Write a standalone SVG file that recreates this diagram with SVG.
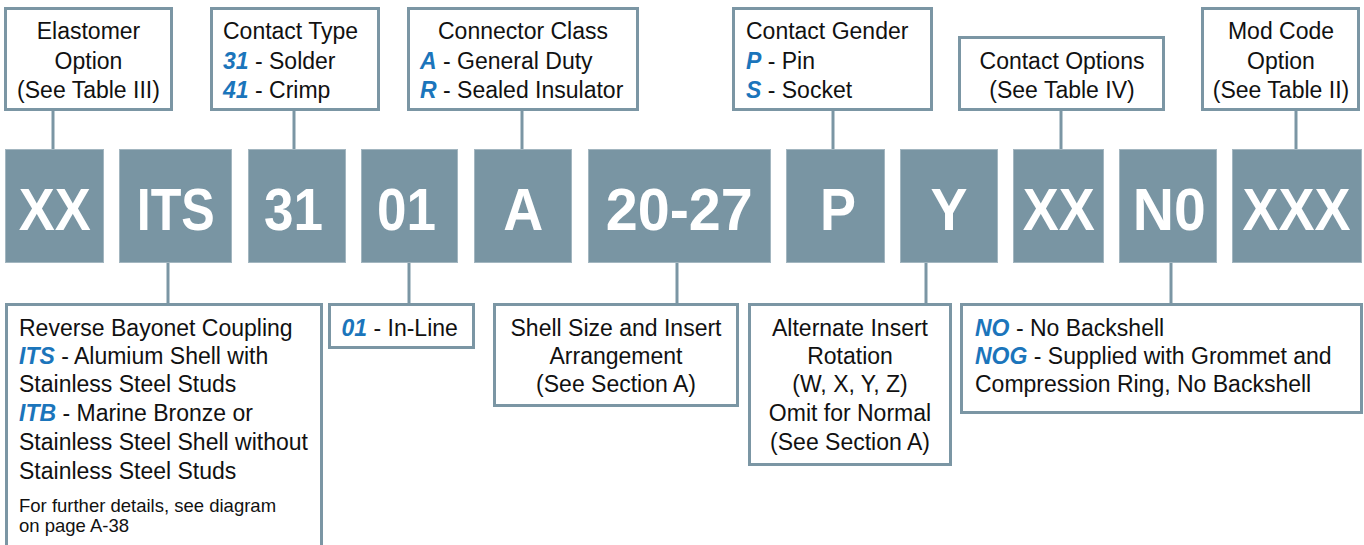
<svg xmlns="http://www.w3.org/2000/svg" width="1364" height="545" viewBox="0 0 1364 545">
<style>
.box{fill:#fff;stroke:#7b96a4;stroke-width:3}
.code{fill:#7995a3;stroke:#a3b6c0;stroke-width:1}
.ct{font-family:"Liberation Sans",Arial,sans-serif;font-weight:bold;font-size:60px;fill:#fff;text-anchor:middle}
.t{font-family:"Liberation Sans",Arial,sans-serif;font-size:23px;fill:#111}
.c{text-anchor:middle}
.s{font-size:18.5px}
.b{fill:#1b75bb;font-weight:bold;font-style:italic}
.ln{stroke:#7b96a4;stroke-width:3;fill:none}
</style>
<rect width="1364" height="545" fill="#fff"/>
<g id="connectors" class="ln">
<line x1="53" y1="110" x2="53" y2="149"/>
<line x1="294" y1="110" x2="294" y2="149"/>
<line x1="522" y1="110" x2="522" y2="149"/>
<line x1="833" y1="110" x2="833" y2="149"/>
<line x1="1061" y1="110" x2="1061" y2="149"/>
<line x1="1296" y1="110" x2="1296" y2="149"/>
<line x1="168" y1="263" x2="168" y2="304"/>
<line x1="409" y1="263" x2="409" y2="304"/>
<line x1="677" y1="263" x2="677" y2="304"/>
<line x1="926" y1="263" x2="926" y2="304"/>
<line x1="1171" y1="263" x2="1171" y2="304"/>
</g>
<g id="elastomer">
<rect class="box" x="5.5" y="8.5" width="166" height="101"/>
<text class="t c" x="88.5" y="39">Elastomer</text>
<text class="t c" x="88.5" y="68.5">Option</text>
<text class="t c" x="88.5" y="98">(See Table III)</text>
</g>
<g id="contact-type">
<rect class="box" x="211.5" y="8.5" width="167" height="101"/>
<text class="t" x="223" y="39">Contact Type</text>
<text class="t" x="223" y="68.5"><tspan class="b">31</tspan> - Solder</text>
<text class="t" x="223" y="98"><tspan class="b">41</tspan> - Crimp</text>
</g>
<g id="connector-class">
<rect class="box" x="408.5" y="8.5" width="229" height="101"/>
<text class="t c" x="523" y="39">Connector Class</text>
<text class="t" x="420" y="68.5"><tspan class="b">A</tspan> - General Duty</text>
<text class="t" x="420" y="98"><tspan class="b">R</tspan> - Sealed Insulator</text>
</g>
<g id="contact-gender">
<rect class="box" x="733.5" y="8.5" width="198" height="101"/>
<text class="t" x="746" y="39">Contact Gender</text>
<text class="t" x="746" y="68.5"><tspan class="b">P</tspan> - Pin</text>
<text class="t" x="746" y="98"><tspan class="b">S</tspan> - Socket</text>
</g>
<g id="contact-options">
<rect class="box" x="959.5" y="37.5" width="204" height="72"/>
<text class="t c" x="1062" y="69">Contact Options</text>
<text class="t c" x="1062" y="98">(See Table IV)</text>
</g>
<g id="mod-code">
<rect class="box" x="1202.5" y="8.5" width="156" height="101"/>
<text class="t c" x="1281" y="39">Mod Code</text>
<text class="t c" x="1281" y="68.5">Option</text>
<text class="t c" x="1281" y="98">(See Table II)</text>
</g>
<g id="code-xx1"><rect class="code" x="5.5" y="149.5" width="98" height="113"/><text class="ct" x="54.7" y="230" textLength="72" lengthAdjust="spacingAndGlyphs">XX</text></g>
<g id="code-its"><rect class="code" x="119.5" y="149.5" width="112" height="113"/><text class="ct" x="175.8" y="230" textLength="78" lengthAdjust="spacingAndGlyphs">ITS</text></g>
<g id="code-31"><rect class="code" x="248.5" y="149.5" width="97" height="113"/><text class="ct" x="293.5" y="230" textLength="59" lengthAdjust="spacingAndGlyphs">31</text></g>
<g id="code-01"><rect class="code" x="361.5" y="149.5" width="96" height="113"/><text class="ct" x="406.5" y="230" textLength="59" lengthAdjust="spacingAndGlyphs">01</text></g>
<g id="code-a"><rect class="code" x="474.5" y="149.5" width="97" height="113"/><text class="ct" x="523.3" y="230" textLength="40" lengthAdjust="spacingAndGlyphs">A</text></g>
<g id="code-2027"><rect class="code" x="588.5" y="149.5" width="182" height="113"/><text class="ct" x="679.3" y="230" textLength="147" lengthAdjust="spacingAndGlyphs">20-27</text></g>
<g id="code-p"><rect class="code" x="786.5" y="149.5" width="98" height="113"/><text class="ct" x="838" y="230" textLength="36" lengthAdjust="spacingAndGlyphs">P</text></g>
<g id="code-y"><rect class="code" x="900.5" y="149.5" width="97" height="113"/><text class="ct" x="949" y="230" textLength="37" lengthAdjust="spacingAndGlyphs">Y</text></g>
<g id="code-xx2"><rect class="code" x="1013.5" y="149.5" width="90" height="113"/><text class="ct" x="1058.7" y="230" textLength="72" lengthAdjust="spacingAndGlyphs">XX</text></g>
<g id="code-n0"><rect class="code" x="1119.5" y="149.5" width="97" height="113"/><text class="ct" x="1169.2" y="230" textLength="73" lengthAdjust="spacingAndGlyphs">N0</text></g>
<g id="code-xxx"><rect class="code" x="1232.5" y="149.5" width="129" height="113"/><text class="ct" x="1296.5" y="230" textLength="108" lengthAdjust="spacingAndGlyphs">XXX</text></g>
<g id="coupling">
<rect class="box" x="6.5" y="304.5" width="315" height="300"/>
<text class="t" x="19" y="335.7">Reverse Bayonet Coupling</text>
<text class="t" x="19" y="364"><tspan class="b">ITS</tspan> - Alumium Shell with</text>
<text class="t" x="19" y="392.3">Stainless Steel Studs</text>
<text class="t" x="19" y="421"><tspan class="b">ITB</tspan> - Marine Bronze or</text>
<text class="t" x="19" y="450">Stainless Steel Shell without</text>
<text class="t" x="19" y="479">Stainless Steel Studs</text>
<text class="t s" x="19" y="512">For further details, see diagram</text>
<text class="t s" x="19" y="532">on page A-38</text>
</g>
<g id="inline">
<rect class="box" x="329.5" y="304.5" width="144" height="43"/>
<text class="t" x="341.5" y="335.7"><tspan class="b">01</tspan> - In-Line</text>
</g>
<g id="shell-size">
<rect class="box" x="494.5" y="304.5" width="243" height="101"/>
<text class="t c" x="616" y="335.7">Shell Size and Insert</text>
<text class="t c" x="616" y="364">Arrangement</text>
<text class="t c" x="616" y="392.3">(See Section A)</text>
</g>
<g id="rotation">
<rect class="box" x="749.5" y="304.5" width="201" height="160"/>
<text class="t c" x="850" y="335.7">Alternate Insert</text>
<text class="t c" x="850" y="364">Rotation</text>
<text class="t c" x="850" y="392.3">(W, X, Y, Z)</text>
<text class="t c" x="850" y="421">Omit for Normal</text>
<text class="t c" x="850" y="449.5">(See Section A)</text>
</g>
<g id="backshell">
<rect class="box" x="961.5" y="304.5" width="400" height="108"/>
<text class="t" x="975" y="335.7"><tspan class="b">NO</tspan> - No Backshell</text>
<text class="t" x="975" y="364"><tspan class="b">NOG</tspan> - Supplied with Grommet and</text>
<text class="t" x="975" y="392.3">Compression Ring, No Backshell</text>
</g>
</svg>
